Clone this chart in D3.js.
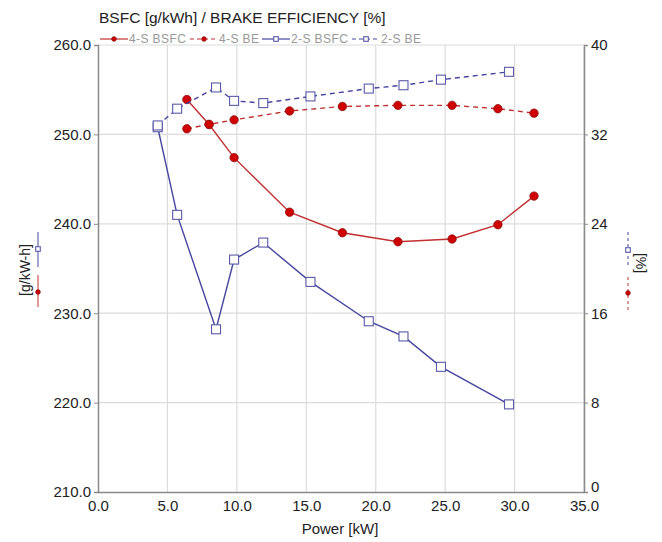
<!DOCTYPE html>
<html>
<head>
<meta charset="utf-8">
<script src="https://cdn.jsdelivr.net/npm/d3@7"></script>
<style>
  body { margin: 0; background: #fff; }
  svg { font-family: Arial, "Liberation Sans", sans-serif; }
</style>
</head>
<body>
<div id="chart"></div>
<script>
// 数据
const power4S = [6.4, 8.0, 9.8, 13.8, 17.6, 21.6, 25.5, 28.8, 31.4]
const bsfc4S = [253.9, 251.1, 247.4, 241.3, 239.0, 238.0, 238.3, 239.9, 243.1]
const be4S = [32.5, 32.9, 33.3, 34.1, 34.5, 34.6, 34.6, 34.3, 33.9]
const power2S = [4.3, 5.7, 8.5, 9.8, 11.9, 15.3, 19.5, 22.0, 24.7, 29.6]
const bsfc2S = [250.8, 241.0, 228.2, 236.0, 237.9, 233.5, 229.1, 227.4, 224.0, 219.8]
const be2S = [32.8, 34.3, 36.2, 35.0, 34.8, 35.4, 36.1, 36.4, 36.9, 37.6]
const xTicks = [0, 5, 10, 15, 20, 25, 30, 35]
const yLeftTicks = [210, 220, 230, 240, 250, 260]
const yRightTicks = [0, 8, 16, 24, 32, 40]
const legendNames = ['4-S BSFC', '4-S BE', '2-S BSFC', '2-S BE']

const width = 662
const height = 542
const plotL = 98, plotR = 584, plotT = 45, plotB = 492

const RED = '#c03030'
const RED_FILL = '#d00000'
const BLUE = '#4646a0'

const svg = d3.select('#chart').append('svg')
  .attr('width', width).attr('height', height)

const x = d3.scaleLinear().domain([0, 35]).range([plotL, plotR])
const yL = d3.scaleLinear().domain([210, 260]).range([plotB, plotT])
const yR = d3.scaleLinear().domain([0, 40]).range([plotB, plotT])

// 网格
svg.append('g').selectAll('line').data(xTicks.slice(1)).join('line')
  .attr('x1', d => x(d)).attr('x2', d => x(d))
  .attr('y1', plotT).attr('y2', plotB)
  .attr('stroke', '#dcdcdc').attr('stroke-width', 1.2)
svg.append('g').selectAll('line').data(yLeftTicks.slice(1)).join('line')
  .attr('x1', plotL).attr('x2', plotR)
  .attr('y1', d => yL(d)).attr('y2', d => yL(d))
  .attr('stroke', '#dcdcdc').attr('stroke-width', 1.2)

// 坐标轴
const axisStyle = g => {
  g.select('.domain').attr('stroke', '#8a8a8a').attr('stroke-width', 1.5)
  g.selectAll('.tick line').attr('stroke', '#8a8a8a')
  g.selectAll('.tick text').attr('fill', '#222').style('font-size', '15px')
}
svg.append('g').attr('transform', `translate(0,${plotB})`)
  .call(d3.axisBottom(x).tickValues(xTicks).tickFormat(d3.format('.1f')).tickSizeOuter(0).tickSize(0).tickPadding(8))
  .call(axisStyle)
svg.append('g').attr('transform', `translate(${plotL},0)`)
  .call(d3.axisLeft(yL).tickValues(yLeftTicks).tickFormat(d3.format('.1f')).tickSizeOuter(0).tickSize(4).tickPadding(3))
  .call(axisStyle)
const rAxis = svg.append('g').attr('transform', `translate(${plotR},0)`)
  .call(d3.axisRight(yR).tickValues(yRightTicks).tickSizeOuter(0).tickSize(4).tickPadding(3))
  .call(axisStyle)
// 右轴 0 稍微上移，避免和 35.0 重叠
rAxis.selectAll('.tick text').filter(d => d === 0).attr('dy', '-0.05em')

// 曲线
const series = [
  { xs: power4S, ys: bsfc4S, y: yL, color: RED, dash: null, mark: 'circle' },
  { xs: power4S, ys: be4S, y: yR, color: RED, dash: '5,4', mark: 'circle' },
  { xs: power2S, ys: bsfc2S, y: yL, color: BLUE, dash: null, mark: 'square' },
  { xs: power2S, ys: be2S, y: yR, color: BLUE, dash: '5,4', mark: 'square' }
]

function drawMarker (g, mark, cx, cy, size) {
  if (mark === 'circle') {
    g.append('circle').attr('cx', cx).attr('cy', cy).attr('r', size)
      .attr('fill', RED_FILL).attr('stroke', '#8a1010').attr('stroke-width', 0.8)
  } else {
    g.append('rect').attr('x', cx - size).attr('y', cy - size)
      .attr('width', size * 2).attr('height', size * 2)
      .attr('fill', '#fff').attr('stroke', '#5a5aa8').attr('stroke-width', 1.1)
  }
}

series.forEach(s => {
  const pts = s.xs.map((v, i) => [x(v), s.y(s.ys[i])])
  svg.append('path')
    .attr('d', d3.line()(pts))
    .attr('fill', 'none')
    .attr('stroke', s.color)
    .attr('stroke-width', 1.4)
    .attr('stroke-dasharray', s.dash)
  const g = svg.append('g')
  pts.forEach(p => drawMarker(g, s.mark, p[0], p[1], s.mark === 'circle' ? 4.2 : 4.5))
})

// 标题
svg.append('text').attr('x', 99).attr('y', 23)
  .text('BSFC [g/kWh] / BRAKE EFFICIENCY [%]')
  .attr('fill', '#222').style('font-size', '15.5px')

// 图例
const legendX = [100, 190, 262, 352]
legendNames.forEach((name, i) => {
  const s = series[i]
  const lx = legendX[i]
  const ly = 39
  const g = svg.append('g')
  g.append('line').attr('x1', lx).attr('x2', lx + 28).attr('y1', ly).attr('y2', ly)
    .attr('stroke', s.color).attr('stroke-width', 1.2).attr('stroke-dasharray', s.dash ? '4,3' : null)
  drawMarker(g, s.mark, lx + 14, ly, 2.3)
  g.append('text').attr('x', lx + 29).attr('y', ly + 4).text(name)
    .attr('fill', '#999').style('font-size', '12px').style('letter-spacing', '0.4px')
})

// 轴标题
svg.append('text').attr('x', 340).attr('y', 534).attr('text-anchor', 'middle')
  .text('Power [kW]').attr('fill', '#222').style('font-size', '15px')
svg.append('text').attr('transform', 'translate(30,270) rotate(-90)').attr('text-anchor', 'middle')
  .text('[g/kW-h]').attr('fill', '#222').style('font-size', '14px')
svg.append('text').attr('transform', 'translate(636,263) rotate(90)').attr('text-anchor', 'middle')
  .text('[%]').attr('fill', '#222').style('font-size', '14px')

// 轴旁小图例
const sideKeys = [
  { xp: 38, y1: 232, y2: 267, ym: 249, s: series[2] },
  { xp: 38, y1: 275, y2: 307, ym: 292, s: series[0] },
  { xp: 628, y1: 232, y2: 265, ym: 250, s: series[3] },
  { xp: 628, y1: 277, y2: 310, ym: 293, s: series[1] }
]
sideKeys.forEach(k => {
  const g = svg.append('g')
  g.append('line').attr('x1', k.xp).attr('x2', k.xp).attr('y1', k.y1).attr('y2', k.y2)
    .attr('stroke', k.s.color).attr('stroke-width', 1).attr('stroke-dasharray', k.s.dash ? '3,3' : null)
  drawMarker(g, k.s.mark, k.xp, k.ym, 2.3)
})
</script>
</body>
</html>
